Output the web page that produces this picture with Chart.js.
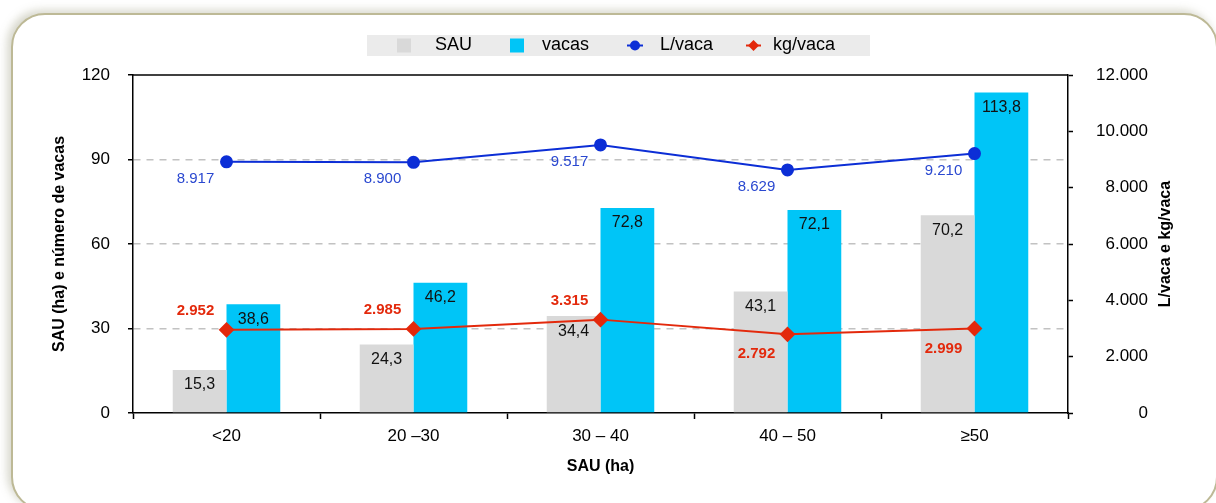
<!DOCTYPE html>
<html>
<head>
<meta charset="utf-8">
<script src="https://cdn.jsdelivr.net/npm/chart.js@4.4.1/dist/chart.umd.min.js"></script>
<style>
  html, body { margin: 0; padding: 0; background: #fff; overflow: hidden; }
  #card {
    position: absolute; left: 11px; top: 13px; width: 1203px; height: 494px;
    border: 2px solid #bdb996; border-radius: 34px; background: #fff;
    box-shadow: -4px -3px 9px rgba(140, 140, 110, 0.35);
  }
  #wrap { position: absolute; left: 0; top: 0; width: 1216px; height: 503px; }
</style>
</head>
<body>
<div id="card"></div>
<div id="wrap"><canvas id="chart"></canvas></div>
<script>
const categories = ["<20", "20 \u201330", "30 \u2013 40", "40 \u2013 50", "\u226550"];
const sauValues = [15.3, 24.3, 34.4, 43.1, 70.2];
const vacasValues = [38.6, 46.2, 72.8, 72.1, 113.8];
const litrosVaca = [8917, 8900, 9517, 8629, 9210];
const kgVaca = [2952, 2985, 3315, 2792, 2999];

const FONT = "'Liberation Sans', Arial, Helvetica, sans-serif";
const BLUE = "#0c2ed6";
const RED = "#e3290c";

function thousands(v) {
    return String(Math.round(v)).replace(/\B(?=(\d{3})+(?!\d))/g, ".");
}
function decimalComma(v) {
    return v.toFixed(1).replace(".", ",");
}

// value labels on bars and line points
const labelsPlugin = {
    id: "valueLabels",
    afterDatasetsDraw(chart) {
        const ctx = chart.ctx;
        ctx.save();
        ctx.textAlign = "center";
        ctx.textBaseline = "middle";
        chart.data.datasets.forEach((ds, di) => {
            const meta = chart.getDatasetMeta(di);
            meta.data.forEach((el, i) => {
                const v = ds.data[i];
                if (ds.type === "bar") {
                    ctx.font = "16px " + FONT;
                    ctx.fillStyle = "#111";
                    ctx.fillText(decimalComma(v), el.x, el.y + 15);
                } else if (ds.label === "L/vaca") {
                    ctx.font = "15px " + FONT;
                    ctx.fillStyle = "#2a48d0";
                    ctx.fillText(thousands(v), el.x - 31, el.y + 17);
                } else {
                    ctx.font = "bold 15px " + FONT;
                    ctx.fillStyle = RED;
                    const below = i >= 3;
                    ctx.fillText(thousands(v), el.x - 31, el.y + (below ? 20 : -19));
                }
            });
        });
        ctx.restore();
    }
};

// top frame line, right axis title and legend strip
const framePlugin = {
    id: "frameLegend",
    afterDraw(chart) {
        const ctx = chart.ctx;
        const a = chart.chartArea;
        ctx.save();
        ctx.strokeStyle = "#000";
        ctx.lineWidth = 1.5;
        ctx.beginPath();
        ctx.moveTo(a.left, a.top);
        ctx.lineTo(a.right, a.top);
        ctx.stroke();

        // right axis title, reading bottom to top
        ctx.save();
        ctx.translate(1166, (a.top + a.bottom) / 2);
        ctx.rotate(-Math.PI / 2);
        ctx.font = "bold 16px " + FONT;
        ctx.fillStyle = "#000";
        ctx.textAlign = "center";
        ctx.textBaseline = "middle";
        ctx.fillText("L/vaca e kg/vaca", 0, 0);
        ctx.restore();

        ctx.fillStyle = "#ebebeb";
        ctx.fillRect(367, 35, 503, 21);
        ctx.font = "18px " + FONT;
        ctx.textBaseline = "middle";
        ctx.textAlign = "left";
        const cy = 45.5;
        const ds = chart.data.datasets;
        // SAU
        ctx.fillStyle = ds[0].backgroundColor;
        ctx.fillRect(397, cy - 7, 14, 14);
        ctx.fillStyle = "#000";
        ctx.fillText(ds[0].label, 435, cy);
        // vacas
        ctx.fillStyle = ds[1].backgroundColor;
        ctx.fillRect(510, cy - 7, 14, 14);
        ctx.fillStyle = "#000";
        ctx.fillText(ds[1].label, 542, cy);
        // L/vaca
        ctx.strokeStyle = BLUE; ctx.lineWidth = 2;
        ctx.beginPath(); ctx.moveTo(627, cy); ctx.lineTo(643, cy); ctx.stroke();
        ctx.fillStyle = BLUE;
        ctx.beginPath(); ctx.arc(635, cy, 5, 0, Math.PI * 2); ctx.fill();
        ctx.fillStyle = "#000";
        ctx.fillText(ds[2].label, 660, cy);
        // kg/vaca
        ctx.strokeStyle = RED;
        ctx.beginPath(); ctx.moveTo(746, cy); ctx.lineTo(761, cy); ctx.stroke();
        ctx.fillStyle = RED;
        ctx.beginPath();
        ctx.moveTo(753.5, cy - 5.5); ctx.lineTo(759, cy); ctx.lineTo(753.5, cy + 5.5); ctx.lineTo(748, cy);
        ctx.closePath(); ctx.fill();
        ctx.fillStyle = "#000";
        ctx.fillText(ds[3].label, 773, cy);
        ctx.restore();
    }
};

const ctx = document.getElementById("chart").getContext("2d");
new Chart(ctx, {
    data: {
        labels: categories,
        datasets: [
            {
                type: "bar", label: "SAU", data: sauValues, yAxisID: "y",
                backgroundColor: "#d9d9d9", order: 3,
                categoryPercentage: 0.575, barPercentage: 1.0
            },
            {
                type: "bar", label: "vacas", data: vacasValues, yAxisID: "y",
                backgroundColor: "#00c5f7", order: 3,
                categoryPercentage: 0.575, barPercentage: 1.0
            },
            {
                type: "line", label: "L/vaca", data: litrosVaca, yAxisID: "y1",
                borderColor: BLUE, backgroundColor: BLUE, borderWidth: 2,
                pointStyle: "circle", pointRadius: 5.5, tension: 0, order: 1
            },
            {
                type: "line", label: "kg/vaca", data: kgVaca, yAxisID: "y1",
                borderColor: RED, backgroundColor: RED, borderWidth: 2,
                pointStyle: "rectRot", pointRadius: 6.5, tension: 0, order: 1
            }
        ]
    },
    options: {
        responsive: true,
        maintainAspectRatio: false,
        animation: false,
        layout: { padding: { left: 46, right: 68, top: 75, bottom: 23 } },
        plugins: {
            legend: { display: false },
            tooltip: { enabled: false }
        },
        scales: {
            x: {
                offset: true,
                grid: { offset: true, drawOnChartArea: false, tickLength: 6, tickColor: "#000", tickWidth: 1.5 },
                border: { color: "#000", width: 1.5 },
                ticks: { color: "#000", font: { family: FONT, size: 17 }, padding: 7 },
                title: { display: true, text: "SAU (ha)", color: "#000", font: { family: FONT, size: 16, weight: "bold" } },
                afterFit: (s) => { s.height = 67; }
            },
            y: {
                position: "left", min: 0, max: 120,
                ticks: { stepSize: 30, color: "#000", font: { family: FONT, size: 17 }, padding: 18 },
                grid: {
                    color: (c) => (c.tick && (c.tick.value === 0 || c.tick.value === 120)) ? "rgba(0,0,0,0)" : "#c2c2c2",
                    lineWidth: 1.5, tickLength: 5, tickColor: "#000", tickWidth: 1.5
                },
                border: { color: "#000", width: 1.5, dash: [7, 6] },
                title: { display: true, text: "SAU (ha) e n\u00famero de vacas", color: "#000", font: { family: FONT, size: 16, weight: "bold" } },
                afterFit: (s) => { s.width = 87; }
            },
            y1: {
                position: "right", min: 0, max: 12000,
                ticks: {
                    stepSize: 2000, color: "#000", font: { family: FONT, size: 17 }, padding: 19,
                    crossAlign: "far", callback: (v) => thousands(v)
                },
                grid: { drawOnChartArea: false, tickLength: 5, tickColor: "#000", tickWidth: 1.5 },
                border: { color: "#000", width: 1.5 },
                afterFit: (s) => { s.width = 80; }
            }
        }
    },
    plugins: [labelsPlugin, framePlugin]
});
</script>
</body>
</html>
